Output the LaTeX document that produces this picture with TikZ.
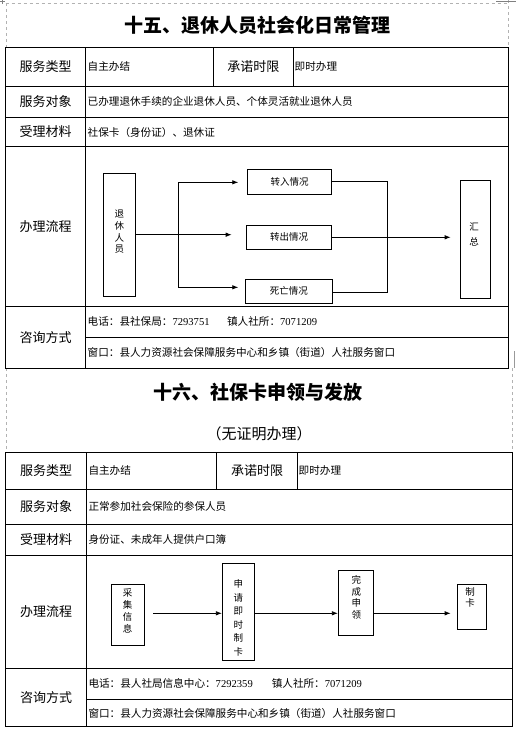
\documentclass[tikz,border=0pt]{standalone}
\usepackage{fontspec}
\setmainfont{Liberation Serif}
\newfontfamily\cjk{Noto Sans CJK SC}
\usetikzlibrary{arrows.meta}
\begin{document}
\begin{tikzpicture}[x=1pt,y=-1pt,
  tline/.style={line width=0.8pt},
  guide/.style={gray!60, dashed, line width=0.4pt},
  ttl/.style={font=\cjk\bfseries\fontsize{19}{21}\selectfont, inner sep=0},
  sub/.style={font=\cjk\fontsize{15}{17}\selectfont, inner sep=0},
  lbl/.style={font=\cjk\fontsize{13}{15}\selectfont, inner sep=0},
  val/.style={font=\cjk\fontsize{10.6}{12}\selectfont, anchor=west, inner sep=0},
  fbox/.style={draw, line width=0.8pt, inner sep=0},
  htxt/.style={font=\cjk\fontsize{9.5}{11}\selectfont, inner sep=0},
  vtxt/.style={font=\cjk\fontsize{9.5}{11.7}\selectfont, inner sep=0, align=center},
  arr/.style={line width=0.8pt, -{Latex[length=6pt,width=4.5pt]}},
  cline/.style={line width=0.8pt}]
\useasboundingbox (0,0) rectangle (516,731);

% page guides
\draw[guide] (5.7,3.3) -- (508.3,3.3);
\draw[guide] (5.7,3.3) -- (5.7,47.7);
\draw[guide] (508.3,0) -- (508.3,47.7);
\draw[guide] (5.7,368.3) -- (5.7,452.3);
\draw[guide] (512.3,368.3) -- (512.3,452.3);
\draw[gray, line width=0.6pt] (0,1) -- (5,1) (2,0) -- (2,4);
\draw[gray, line width=0.6pt] (496,1) -- (516,1);
\draw[gray!80, line width=1pt] (514.5,351) -- (514.5,368);

% ================= Section 15 =================
\node[ttl] (t1) at (257,25) {十五、退休人员社会化日常管理};

\draw[tline] (5.7,47.7) rectangle (508,368.3);
\draw[tline] (85.7,47.7) -- (85.7,368.3);
\draw[tline] (213.3,47.7) -- (213.3,86);
\draw[tline] (293.3,47.7) -- (293.3,86);
\draw[tline] (5.7,86) -- (508,86);
\draw[tline] (5.7,117.3) -- (508,117.3);
\draw[tline] (5.7,146.7) -- (508,146.7);
\draw[tline] (5.7,306) -- (508,306);
\draw[tline] (85.7,337.3) -- (508,337.3);

\node[lbl] (a1) at (45.7,66.8) {服务类型};
\node[lbl] (a2) at (253.3,66.8) {承诺时限};
\node[lbl] (a3) at (45.7,101.7) {服务对象};
\node[lbl] (a4) at (45.7,132) {受理材料};
\node[lbl] (a5) at (45.7,226.3) {办理流程};
\node[lbl] (a6) at (45.7,337.2) {咨询方式};

\node[val] (v1) at (87.5,66.8) {自主办结};
\node[val] (v2) at (294.5,66.8) {即时办理};
\node[val] (v3) at (87.5,101.7) {已办理退休手续的企业退休人员、个体灵活就业退休人员};
\node[val] (v4) at (87.5,132) {社保卡（身份证）、退休证};
\node[val] (v5) at (87.5,321.7) {电话：县社保局：{\rmfamily 7293751}\hspace{17.5pt}镇人社所：{\rmfamily 7071209}};
\node[val] (v6) at (87.5,352.8) {窗口：县人力资源社会保障服务中心和乡镇（街道）人社服务窗口};

% flow 1
\node[fbox, minimum width=32pt, minimum height=122.7pt] (rb) at (119.3,234.7) {};
\node[vtxt] (rt) at (119.3,232) {退\\休\\人\\员};
\node[fbox, minimum width=84.4pt, minimum height=25pt, htxt] (in) at (289.5,181.8) {转入情况};
\node[fbox, minimum width=85.4pt, minimum height=24pt, htxt] (out) at (289,237.3) {转出情况};
\node[fbox, minimum width=87pt, minimum height=24.3pt, htxt] (dead) at (288.8,291.2) {死亡情况};
\node[fbox, minimum width=30.4pt, minimum height=118pt] (sum) at (475.5,239.3) {};
\node[vtxt, font=\cjk\fontsize{9.5}{15.5}\selectfont] (st) at (474,234.5) {汇\\总};

\coordinate (m1) at (231.7,234.7);
\coordinate (bt) at (178.3,182.3);
\coordinate (bb) at (178.3,287.3);
\coordinate (tt) at (238.3,182.3);
\coordinate (tb) at (238.3,287.3);
\coordinate (jr) at (387.3,292.3);
\coordinate (m2) at (450.7,237.3);
\draw[arr] (rb.east |- m1) -- (m1);
\draw[cline] (bt) -- (bb);
\draw[arr] (bt) -- (tt);
\draw[arr] (bb) -- (tb);
\draw[cline] (in.east) -| (jr) -- (dead.east |- jr);
\draw[arr] (out.east) -- (m2);

% ================= Section 16 =================
\node[ttl] (t2) at (258,392.7) {十六、社保卡申领与发放};
\node[sub] (t3) at (259,433.3) {（无证明办理）};

\draw[tline] (5.7,452.3) rectangle (512.3,726.7);
\draw[tline] (86.3,452.3) -- (86.3,726.7);
\draw[tline] (216.7,452.3) -- (216.7,489);
\draw[tline] (297.3,452.3) -- (297.3,489);
\draw[tline] (5.7,489) -- (512.3,489);
\draw[tline] (5.7,524.3) -- (512.3,524.3);
\draw[tline] (5.7,555) -- (512.3,555);
\draw[tline] (5.7,668.3) -- (512.3,668.3);
\draw[tline] (86.3,699.3) -- (512.3,699.3);

\node[lbl] (b1) at (46,470.7) {服务类型};
\node[lbl] (b2) at (257,470.7) {承诺时限};
\node[lbl] (b3) at (46,506.7) {服务对象};
\node[lbl] (b4) at (46,539.7) {受理材料};
\node[lbl] (b5) at (46,611.7) {办理流程};
\node[lbl] (b6) at (46,697.5) {咨询方式};

\node[val] (w1) at (88.3,470.7) {自主办结};
\node[val] (w2) at (298.5,470.7) {即时办理};
\node[val] (w3) at (88.3,506.7) {正常参加社会保险的参保人员};
\node[val] (w4) at (88.3,539.7) {身份证、未成年人提供户口簿};
\node[val] (w5) at (88.3,683.8) {电话：县人社局信息中心：{\rmfamily 7292359}\hspace{19pt}镇人社所：{\rmfamily 7071209}};
\node[val] (w6) at (88.3,713) {窗口：县人力资源社会保障服务中心和乡镇（街道）人社服务窗口};

% flow 2
\node[fbox, minimum width=33pt, minimum height=61pt] (col) at (127.8,614.8) {};
\node[vtxt] (colt) at (127.5,610.8) {采\\集\\信\\息};
\node[fbox, minimum width=32.4pt, minimum height=97pt] (app) at (238.5,611.8) {};
\node[vtxt, font=\cjk\fontsize{9.5}{13.5}\selectfont] (appt) at (238.3,617.8) {申\\请\\即\\时\\制\\卡};
\node[fbox, minimum width=35pt, minimum height=64.6pt] (done) at (355.8,603) {};
\node[vtxt] (donet) at (356.3,597.5) {完\\成\\申\\领};
\node[fbox, minimum width=29.7pt, minimum height=45pt] (card) at (471.8,606.8) {};
\node[vtxt] (cardt) at (470,597.5) {制\\卡};

\coordinate (s0) at (153.3,613.3);
\coordinate (s3) at (450.7,613.3);
\draw[arr] (s0) -- (app.west |- s0);
\draw[arr] (app.east |- s0) -- (done.west |- s0);
\draw[arr] (done.east |- s0) -- (s3);
\end{tikzpicture}
\end{document}
